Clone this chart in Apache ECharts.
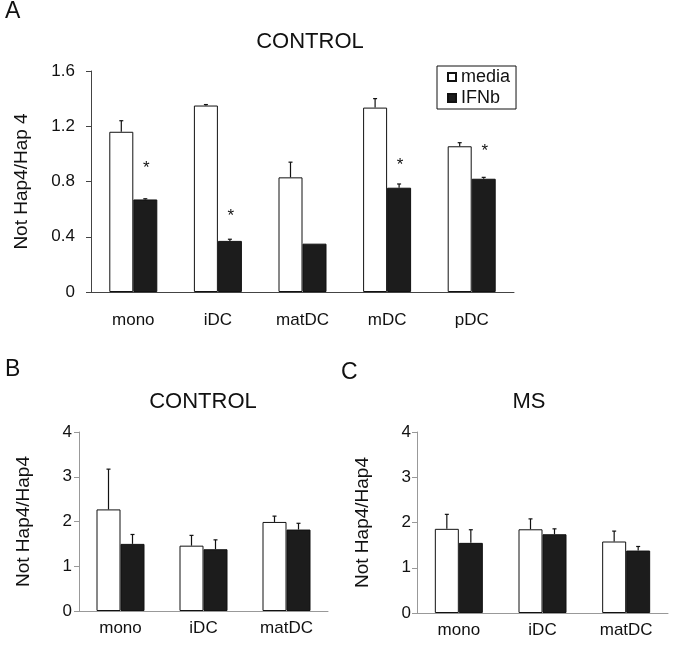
<!DOCTYPE html>
<html lang="en">
<head>
    <meta charset="UTF-8">
    <title>Not Hap4/Hap4</title>
    <script src="https://cdn.jsdelivr.net/npm/echarts@6/dist/echarts.min.js"></script>
    <style>
        html, body { margin: 0; padding: 0; background: #fff; }
        #main { width: 675px; height: 648px; }
    </style>
</head>
<body>
    <div id="main"></div>
    <script>
        // panel A
        let catsA = ['mono', 'iDC', 'matDC', 'mDC', 'pDC'];
        let mediaA = [1.16, 1.35, 0.83, 1.335, 1.055];
        let mediaErrA = [0.08, 0.007, 0.11, 0.065, 0.026];
        let ifnA = [0.67, 0.37, 0.35, 0.755, 0.82];
        let ifnErrA = [0.005, 0.012, 0, 0.027, 0.01];
        let starA = [0.92, 0.57, null, 0.94, 1.04];

        // panel B (CONTROL) and C (MS)
        let catsBC = ['mono', 'iDC', 'matDC'];
        let mediaB = [2.27, 1.46, 1.99];
        let mediaErrB = [0.9, 0.23, 0.13];
        let ifnB = [1.50, 1.38, 1.82];
        let ifnErrB = [0.21, 0.21, 0.14];
        let mediaC = [1.86, 1.85, 1.58];
        let mediaErrC = [0.32, 0.23, 0.23];
        let ifnC = [1.55, 1.74, 1.38];
        let ifnErrC = [0.29, 0.12, 0.09];

        let font = "'Liberation Sans', Arial, sans-serif";
        let chart = echarts.init(document.getElementById('main'));

        function errData(vals, errs) {
            return vals.map(function (v, i) { return [i, v, errs[i]]; });
        }

        function errSeries(idx, vals, errs, dx) {
            return {
                type: 'custom',
                xAxisIndex: idx,
                yAxisIndex: idx,
                data: errData(vals, errs),
                silent: true,
                z: 5,
                renderItem: function (params, api) {
                    let e = api.value(2);
                    if (!e) return null;
                    let p0 = api.coord([api.value(0), api.value(1)]);
                    let p1 = api.coord([api.value(0), api.value(1) + e]);
                    let x = p0[0] + dx;
                    return {
                        type: 'group',
                        children: [
                            { type: 'line', shape: { x1: x, y1: p0[1], x2: x, y2: p1[1] }, style: { stroke: '#111', lineWidth: 1.2 } },
                            { type: 'line', shape: { x1: x - 2, y1: p1[1], x2: x + 2, y2: p1[1] }, style: { stroke: '#111', lineWidth: 1.2 } }
                        ]
                    };
                }
            };
        }

        function barPair(idx, media, ifn) {
            return [{
                name: 'media',
                type: 'bar',
                xAxisIndex: idx,
                yAxisIndex: idx,
                data: media,
                barWidth: 24,
                barGap: '0%',
                itemStyle: { color: '#fff', borderColor: '#111', borderWidth: 1 }
            }, {
                name: 'IFNb',
                type: 'bar',
                xAxisIndex: idx,
                yAxisIndex: idx,
                data: ifn,
                barWidth: 24,
                barGap: '0%',
                itemStyle: { color: '#1c1c1c', borderColor: '#111', borderWidth: 1 }
            }];
        }

        function xAx(idx, cats, lineColor, margin) {
            return {
                type: 'category',
                gridIndex: idx,
                data: cats,
                axisLine: { lineStyle: { color: lineColor, width: 1 } },
                axisTick: { length: 5, lineStyle: { color: lineColor } },
                axisLabel: { color: '#111', fontSize: 17, fontFamily: font, margin: margin }
            };
        }

        function yAx(idx, max, interval, name, gap, lineColor, margin, fmt) {
            return {
                type: 'value',
                gridIndex: idx,
                min: 0,
                max: max,
                interval: interval,
                name: name,
                nameLocation: 'middle',
                nameGap: gap,
                nameTextStyle: { color: '#111', fontSize: 19, fontFamily: font },
                splitLine: { show: false },
                axisLine: { show: true, lineStyle: { color: lineColor, width: 1 } },
                axisTick: { show: true, length: 5, lineStyle: { color: lineColor } },
                axisLabel: { color: '#111', fontSize: 17, fontFamily: font, margin: margin, formatter: fmt }
            };
        }

        function heading(text, left, top, size, center) {
            return {
                text: text,
                left: left,
                top: top,
                padding: 0,
                textAlign: center ? 'center' : 'left',
                textStyle: { fontSize: size, fontWeight: 'normal', color: '#111' }
            };
        }

        let option = {
            animation: false,
            backgroundColor: '#fff',
            textStyle: { fontFamily: font },
            title: [
                heading('A', 5, 0, 23),
                heading('CONTROL', 310, 31, 22, true),
                heading('B', 5, 358, 23),
                heading('CONTROL', 203, 391, 22, true),
                heading('C', 341, 361, 23),
                heading('MS', 529, 391, 22, true)
            ],
            legend: {
                data: ['media', 'IFNb'],
                orient: 'vertical',
                left: 437,
                top: 66,
                itemWidth: 8,
                itemHeight: 8,
                itemGap: 3,
                padding: [2, 6, 2, 10],
                borderColor: '#111',
                borderWidth: 1,
                icon: 'rect',
                selectedMode: false,
                textStyle: { fontSize: 18, color: '#111', padding: [0, 0, 0, 0] }
            },
            grid: [
                { left: 91, top: 71, width: 423, height: 221 },
                { left: 79, top: 432, width: 249, height: 179 },
                { left: 417, top: 432, width: 251, height: 181 }
            ],
            xAxis: [
                xAx(0, catsA, '#444', 20),
                xAx(1, catsBC, '#999', 9),
                xAx(2, catsBC, '#999', 9)
            ],
            yAxis: [
                yAx(0, 1.6, 0.4, 'Not Hap4/Hap 4', 60, '#444', 16, function (v) { return v === 0 ? '0' : v.toFixed(1); }),
                yAx(1, 4, 1, 'Not Hap4/Hap4', 46, '#999', 7),
                yAx(2, 4, 1, 'Not Hap4/Hap4', 45, '#999', 6)
            ],
            series: [].concat(
                barPair(0, mediaA, ifnA),
                barPair(1, mediaB, ifnB),
                barPair(2, mediaC, ifnC),
                [
                    errSeries(0, mediaA, mediaErrA, -12),
                    errSeries(0, ifnA, ifnErrA, 12),
                    errSeries(1, mediaB, mediaErrB, -12),
                    errSeries(1, ifnB, ifnErrB, 12),
                    errSeries(2, mediaC, mediaErrC, -12),
                    errSeries(2, ifnC, ifnErrC, 12),
                    {
                        // significance stars over the IFNb bars
                        type: 'custom',
                        xAxisIndex: 0,
                        yAxisIndex: 0,
                        silent: true,
                        data: starA.map(function (v, i) { return [i, v]; }),
                        renderItem: function (params, api) {
                            if (starA[params.dataIndex] == null) return null;
                            let p = api.coord([api.value(0), api.value(1)]);
                            return {
                                type: 'text',
                                x: p[0] + 13,
                                y: p[1] + 3,
                                style: { text: '*', fontSize: 17, fill: '#111', align: 'center', verticalAlign: 'middle', fontFamily: font }
                            };
                        }
                    }
                ]
            )
        };
        chart.setOption(option);
    </script>
</body>
</html>
